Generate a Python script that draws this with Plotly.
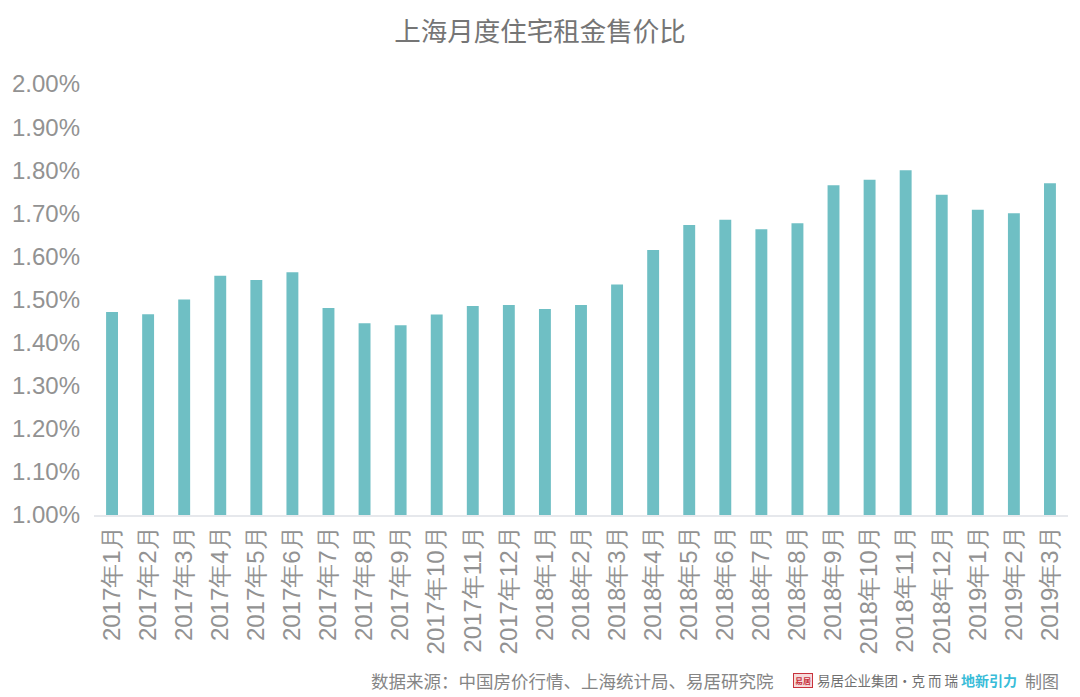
import plotly.graph_objects as go

categories = ["2017年1月","2017年2月","2017年3月","2017年4月","2017年5月","2017年6月","2017年7月","2017年8月","2017年9月","2017年10月","2017年11月","2017年12月",
              "2018年1月","2018年2月","2018年3月","2018年4月","2018年5月","2018年6月","2018年7月","2018年8月","2018年9月","2018年10月","2018年11月","2018年12月",
              "2019年1月","2019年2月","2019年3月"]
values = [1.471,1.466,1.500,1.555,1.545,1.563,1.480,1.445,1.440,1.465,1.485,1.487,
          1.478,1.487,1.535,1.615,1.673,1.685,1.663,1.677,1.765,1.778,1.800,1.743,
          1.708,1.700,1.770]
y_ticks = [1.0,1.1,1.2,1.3,1.4,1.5,1.6,1.7,1.8,1.9,2.0]
y_labels = ["1.00%","1.10%","1.20%","1.30%","1.40%","1.50%","1.60%","1.70%","1.80%","1.90%","2.00%"]

FONT = "Noto Sans CJK SC"
W, H = 1064, 689
L, T, PW, PH = 86, 76, 974, 431
fig = go.Figure(go.Bar(x=categories, y=values, marker_color="#6fbfc4", marker_line_width=0, width=0.33))

def note(x, text, size, color, anchor="left", **kw):
    fig.add_annotation(xref="paper", yref="paper", x=(x-L)/PW, y=(T+PH-672)/PH, text=text, showarrow=False,
                       xanchor=anchor, yanchor="middle", font=dict(family=FONT, size=size, color=color), **kw)

fig.update_layout(
    width=W, height=H, autosize=False,
    margin=dict(l=L, r=W-L-PW, t=T, b=H-T-PH),
    paper_bgcolor="white", plot_bgcolor="white", showlegend=False,
    title=dict(text="上海月度住宅租金售价比", x=532/W, xanchor="center", y=1-24/H, yanchor="middle",
               font=dict(family=FONT, size=26.5, color="#757575")),
    xaxis=dict(type="category", tickangle=-90, showgrid=False, showline=True, linecolor="#e6e8ec", linewidth=1.5,
               ticks="", tickfont=dict(family="Liberation Sans", size=24, color="#929292"), range=[-0.5, 26.5]),
    yaxis=dict(range=[1.0, 2.0], tickvals=y_ticks, ticktext=y_labels, showgrid=False, zeroline=False, showline=False,
               ticks="", ticklabelstandoff=13, tickfont=dict(family="Liberation Sans", size=24, color="#929292")),
)
note(361, "数据来源：中国房价行情、上海统计局、易居研究院", 17.5, "#858585")
note(785, "<b>易居</b>", 8, "#c8323c", bordercolor="#c8323c", borderwidth=1, bgcolor="#f6dcdc", borderpad=1)
note(807, "易居企业集团·克 而 瑞", 13.5, "#707070")
note(951, "<b>地新引力</b>", 14, "#38bcd8")
note(1015, "制图", 17, "#858585")
fig.write_html("out.html")
